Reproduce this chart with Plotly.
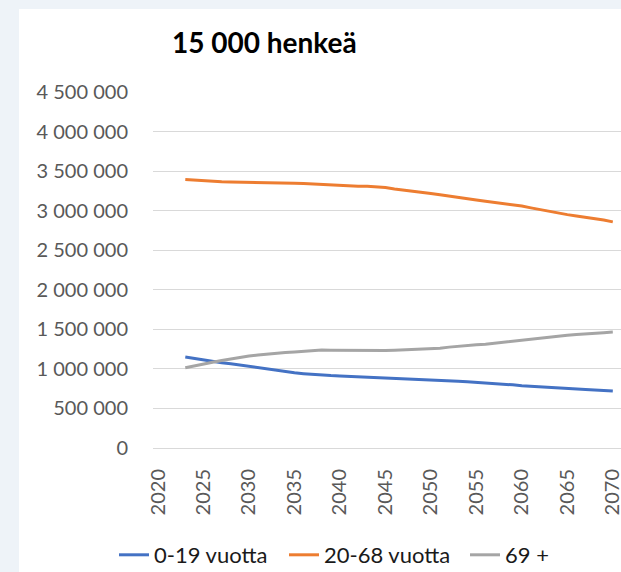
import plotly.graph_objects as go

years = list(range(2023, 2071))

age_0_19 = [1150000, 1130000, 1110000, 1092000, 1078000, 1065000, 1048000, 1027000,
            1010000, 992000, 976000, 962000, 950000, 940000, 930000, 922000,
            915000, 910000, 905000, 899000, 894000, 892000, 890000, 886000,
            880000, 874000, 868000, 862000, 856000, 850000, 843000, 836000,
            830000, 823000, 816000, 808000, 798000, 788000, 780000, 774000,
            768000, 762000, 755000, 748000, 741000, 734000, 727000, 719000]

age_20_68 = [3393000, 3385000, 3375000, 3366000, 3364000, 3363000, 3362000, 3361000,
             3360000, 3360000, 3358000, 3352000, 3348000, 3343000, 3337000, 3330000,
             3326000, 3320000, 3313000, 3310000, 3310000, 3305000, 3292000, 3275000,
             3262000, 3250000, 3235000, 3218000, 3200000, 3182000, 3165000, 3148000,
             3135000, 3120000, 3105000, 3090000, 3075000, 3058000, 3035000, 3012000,
             2992000, 2970000, 2950000, 2933000, 2918000, 2903000, 2882000, 2858000]

age_69_plus = [1014000, 1040000, 1065000, 1085000, 1105000, 1125000, 1145000, 1162000,
               1175000, 1188000, 1198000, 1207000, 1215000, 1225000, 1233000, 1238000,
               1237000, 1236000, 1232000, 1229000, 1228000, 1229000, 1231000, 1235000,
               1240000, 1245000, 1248000, 1252000, 1262000, 1275000, 1288000, 1298000,
               1305000, 1312000, 1325000, 1340000, 1355000, 1368000, 1378000, 1388000,
               1400000, 1413000, 1425000, 1436000, 1446000, 1452000, 1458000, 1465000]

series_names = ["0-19 vuotta", "20-68 vuotta", "69 +"]
series_colors = ["#4472C4", "#ED7D31", "#A5A5A5"]
title_text = "15 000 henkeä"

FONT = "Lato, 'Open Sans', sans-serif"

L, R, T, B = 153, 0, 92, 124
W, H = 621, 572
pw = W - L - R
ph = H - T - B

def px2x(px):
    return (px - L) / pw

def py2y(py):
    return (H - B - py) / ph

legend_ids = ["legend", "legend2", "legend3"]
legend_starts = [119, 289, 470]

fig = go.Figure()
for name, vals, col, lid in zip(series_names, [age_0_19, age_20_68, age_69_plus],
                                series_colors, legend_ids):
    fig.add_trace(go.Scatter(x=years, y=vals, mode="lines", name=name, legend=lid,
                             line=dict(color=col, width=3)))

legend_layouts = {}
for lid, start in zip(legend_ids, legend_starts):
    legend_layouts[lid] = dict(orientation="h", xanchor="left", yanchor="middle",
                               xref="container", yref="container",
                               x=(start - 5) / W, y=(H - 555) / H,
                               font=dict(family=FONT, size=22, color="#1a1a1a"),
                               itemwidth=30, bgcolor="rgba(0,0,0,0)")

fig.update_layout(
    width=W, height=H,
    margin=dict(l=L, r=R, t=T, b=B, autoexpand=False),
    paper_bgcolor="#EEF3F8",
    plot_bgcolor="white",
    separators=", ",
    showlegend=True,
    xaxis=dict(range=[2019.45, 2070.9], tick0=2020, dtick=5, tickangle=-90,
               showgrid=False, zeroline=False, showline=False, ticks="",
               tickfont=dict(family=FONT, size=20, color="#595959"),
               ticklabelstandoff=16, ticklabeloverflow="allow"),
    yaxis=dict(range=[0, 4500000], dtick=500000, tickformat=",d",
               showgrid=True, gridcolor="#D9D9D9", gridwidth=1,
               zeroline=True, zerolinecolor="#D9D9D9", zerolinewidth=1,
               showline=False, ticks="",
               tickfont=dict(family=FONT, size=20, color="#595959"),
               ticklabelstandoff=24),
    shapes=[dict(type="rect", xref="paper", yref="paper", layer="below",
                 x0=px2x(19), x1=px2x(700), y0=py2y(600), y1=py2y(9),
                 fillcolor="white", line=dict(width=0))],
    annotations=[dict(text="<b>" + title_text + "</b>", xref="paper", yref="paper",
                      x=px2x(264), y=py2y(42), xanchor="center", yanchor="middle",
                      showarrow=False, font=dict(family=FONT, size=28, color="#000000"))],
    **legend_layouts,
)

fig.write_html("out.html", config={"displayModeBar": False},
               post_script="document.body.style.margin='0';document.body.style.overflow='hidden';")
